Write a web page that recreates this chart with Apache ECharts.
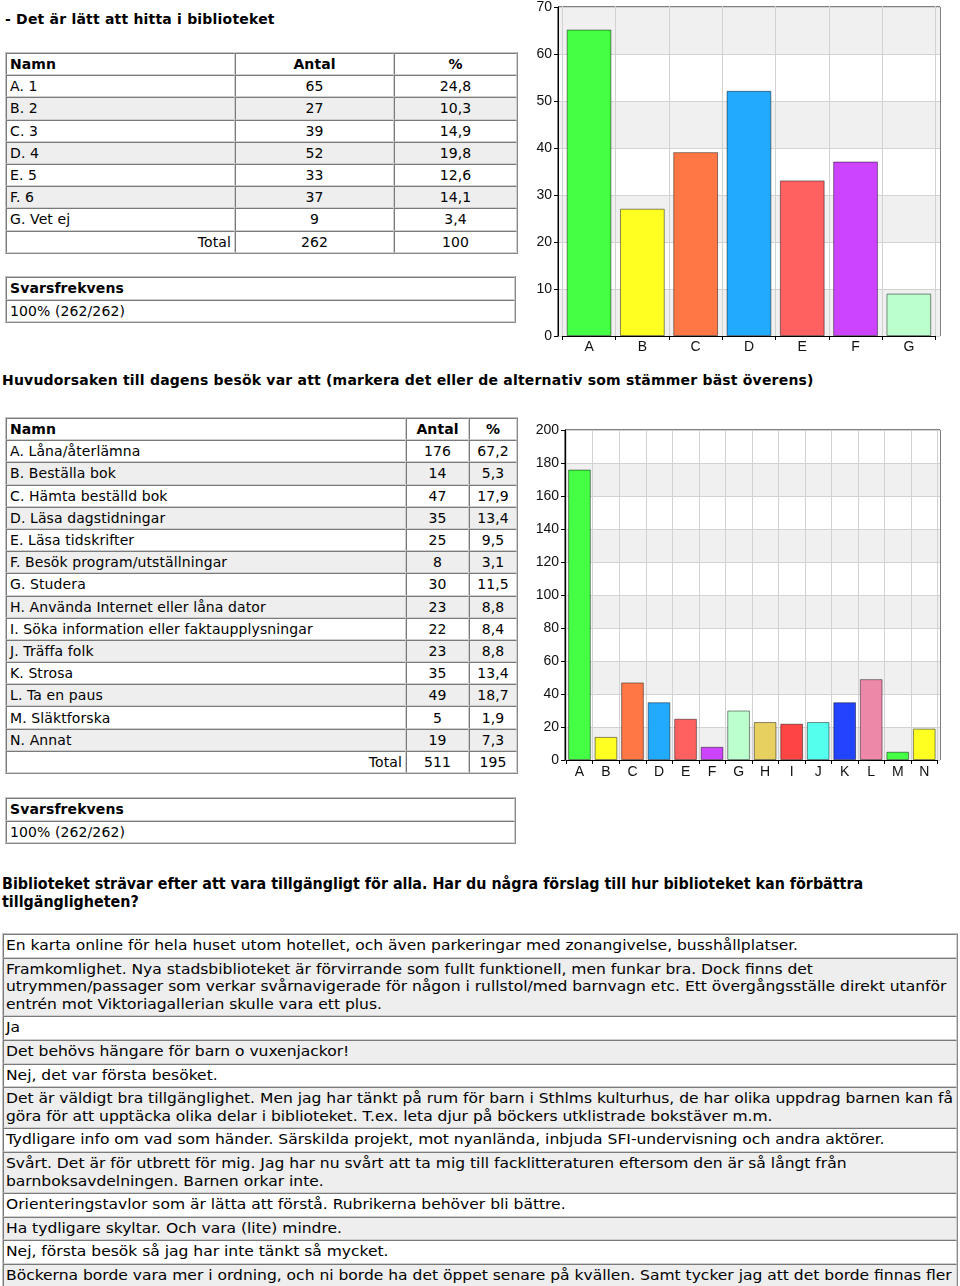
<!DOCTYPE html>
<html>
<head>
<meta charset="utf-8">
<script src="https://cdn.jsdelivr.net/npm/echarts@6/dist/echarts.min.js"></script>
<style>
  html, body { margin:0; padding:0; background:#fff; }
  body { width:960px; height:1286px; position:relative; overflow:hidden; font-family:"DejaVu Sans", Verdana, sans-serif; color:#000; }
  .abs { position:absolute; }
  .qtitle { font-weight:bold; font-size:14px; letter-spacing:0.2px; line-height:18px; white-space:nowrap; }
  table.grid { border-collapse:separate; border-spacing:0; table-layout:fixed; font-size:14px; letter-spacing:0.1px;
    border-top:1px solid #c4c4c4; border-left:1px solid #c4c4c4; border-right:1px solid #8a8a8a; border-bottom:1px solid #8a8a8a; }
  table.grid td { border-top:1px solid #7a7a7a; border-left:1px solid #7a7a7a; border-right:1px solid #cfcfcf; border-bottom:1px solid #cfcfcf;
    padding:0 3px; white-space:nowrap; overflow:hidden; vertical-align:middle; }
  table.grid tr.g td { background:#eeeeee; }
  table.grid td.c { text-align:center; }
  table.grid td.r { text-align:right; }
  table.cm { border-collapse:separate; border-spacing:0; table-layout:fixed; font-family:"DejaVu Sans Condensed","DejaVu Sans",sans-serif; font-size:14.5px;
    border-top:1px solid #c4c4c4; border-left:1px solid #c4c4c4; border-right:1px solid #8a8a8a; border-bottom:1px solid #8a8a8a; }
  table.cm td { border-top:1px solid #7a7a7a; border-left:1px solid #7a7a7a; border-right:1px solid #cfcfcf; border-bottom:1px solid #cfcfcf;
    padding:2px 2px; line-height:17.6px; white-space:nowrap; overflow:hidden; }
  table.cm td span { display:inline-block; transform:scaleX(1.19); transform-origin:0 0; }
  table.cm tr.g td { background:#eeeeee; }
</style>
</head>
<body>
<div class="abs qtitle" style="left:5px; top:10px;" id="q1t"></div>
<table id="t1" class="abs grid" style="left:5px; top:52px; width:511px;"></table>
<table id="s1" class="abs grid" style="left:5px; top:276px; width:511px;"></table>
<div id="c1" class="abs" style="left:520px; top:0px; width:440px; height:360px;"></div>

<div class="abs qtitle" style="left:2px; top:371px;" id="q2t"></div>
<table id="t2" class="abs grid" style="left:5px; top:417px; width:511px;"></table>
<table id="s2" class="abs grid" style="left:5px; top:797px; width:511px;"></table>
<div id="c2" class="abs" style="left:520px; top:415px; width:440px; height:370px;"></div>

<div class="abs" id="q3t" style="left:2px; top:875px; font-family:'DejaVu Sans Condensed','DejaVu Sans',sans-serif; font-weight:bold; font-size:15.9px; line-height:18px; white-space:nowrap;"></div>
<table id="cm" class="abs cm" style="left:2px; top:933px; width:956px;"></table>

<script>
// ---------- Data ----------
const q1Title = '- Det är lätt att hitta i biblioteket';
const q1Cats = ['A','B','C','D','E','F','G'];
const q1Names = ['A. 1','B. 2','C. 3','D. 4','E. 5','F. 6','G. Vet ej'];
const q1Counts = [65, 27, 39, 52, 33, 37, 9];
const q1Pct = ['24,8','10,3','14,9','19,8','12,6','14,1','3,4'];
const q1Total = ['262','100'];
const q1Ticks = [0, 10, 20, 30, 40, 50, 60, 70];

const q2Title = 'Huvudorsaken till dagens besök var att (markera det eller de alternativ som stämmer bäst överens)';
const q2Cats = ['A','B','C','D','E','F','G','H','I','J','K','L','M','N'];
const q2Names = ['A. Låna/återlämna','B. Beställa bok','C. Hämta beställd bok','D. Läsa dagstidningar','E. Läsa tidskrifter',
  'F. Besök program/utställningar','G. Studera','H. Använda Internet eller låna dator','I. Söka information eller faktaupplysningar',
  'J. Träffa folk','K. Strosa','L. Ta en paus','M. Släktforska','N. Annat'];
const q2Counts = [176, 14, 47, 35, 25, 8, 30, 23, 22, 23, 35, 49, 5, 19];
const q2Pct = ['67,2','5,3','17,9','13,4','9,5','3,1','11,5','8,8','8,4','8,8','13,4','18,7','1,9','7,3'];
const q2Total = ['511','195'];
const q2Ticks = [0, 20, 40, 60, 80, 100, 120, 140, 160, 180, 200];

const responseLabel = 'Svarsfrekvens';
const responseValue = '100% (262/262)';

const q3TitleLines = ['Biblioteket strävar efter att vara tillgängligt för alla. Har du några förslag till hur biblioteket kan förbättra',
  'tillgängligheten?'];
const comments = [
  ['En karta online för hela huset utom hotellet, och även parkeringar med zonangivelse, busshållplatser.'],
  ['Framkomlighet. Nya stadsbiblioteket är förvirrande som fullt funktionell, men funkar bra. Dock finns det',
   'utrymmen/passager som verkar svårnavigerade för någon i rullstol/med barnvagn etc. Ett övergångsställe direkt utanför',
   'entrén mot Viktoriagallerian skulle vara ett plus.'],
  ['Ja'],
  ['Det behövs hängare för barn o vuxenjackor!'],
  ['Nej, det var första besöket.'],
  ['Det är väldigt bra tillgänglighet. Men jag har tänkt på rum för barn i Sthlms kulturhus, de har olika uppdrag barnen kan få',
   'göra för att upptäcka olika delar i biblioteket. T.ex. leta djur på böckers utklistrade bokstäver m.m.'],
  ['Tydligare info om vad som händer. Särskilda projekt, mot nyanlända, inbjuda SFI-undervisning och andra aktörer.'],
  ['Svårt. Det är för utbrett för mig. Jag har nu svårt att ta mig till facklitteraturen eftersom den är så långt från',
   'barnboksavdelningen. Barnen orkar inte.'],
  ['Orienteringstavlor som är lätta att förstå. Rubrikerna behöver bli bättre.'],
  ['Ha tydligare skyltar. Och vara (lite) mindre.'],
  ['Nej, första besök så jag har inte tänkt så mycket.'],
  ['Böckerna borde vara mer i ordning, och ni borde ha det öppet senare på kvällen. Samt tycker jag att det borde finnas fler']
];

// ---------- Styles ----------
const q1Colors = ['#44ff44','#ffff22','#ff7744','#22aaff','#ff6060','#cc44ff','#bbffcc'];
const q2Colors = ['#44ff44','#ffff22','#ff7744','#22aaff','#ff6060','#cc44ff','#bbffcc','#e8d060','#ff4444','#55ffee','#2244ff','#ee88a8','#44ff44','#ffff22'];

// ---------- Text & tables ----------
function esc(s){ return String(s).replace(/&/g,'&amp;').replace(/</g,'&lt;'); }
document.getElementById('q1t').textContent = q1Title;
document.getElementById('q2t').textContent = q2Title;
document.getElementById('q3t').innerHTML = q3TitleLines.map(esc).join('<br>');

function buildTable(id, names, counts, pct, total, widths, rowH) {
  const t = document.getElementById(id);
  let h = '<colgroup>' + widths.map(w => '<col style="width:'+w+'px">').join('') + '</colgroup>';
  h += '<tr style="height:'+rowH+'px"><td style="font-weight:bold">Namn</td><td class="c" style="font-weight:bold">Antal</td><td class="c" style="font-weight:bold">%</td></tr>';
  names.forEach((n, i) => {
    h += '<tr class="'+(i%2===1?'g':'')+'" style="height:'+rowH+'px"><td>'+esc(n)+'</td><td class="c">'+counts[i]+'</td><td class="c">'+pct[i]+'</td></tr>';
  });
  h += '<tr style="height:'+rowH+'px"><td class="r">Total</td><td class="c">'+total[0]+'</td><td class="c">'+total[1]+'</td></tr>';
  t.innerHTML = h;
}
function buildResp(id, rowH) {
  const t = document.getElementById(id);
  t.innerHTML = '<tr style="height:'+rowH+'px"><td style="font-weight:bold">'+responseLabel+'</td></tr>' +
                '<tr style="height:'+rowH+'px"><td>'+esc(responseValue)+'</td></tr>';
}
buildTable('t1', q1Names, q1Counts, q1Pct, q1Total, [229,159,123], 22.2);
buildTable('t2', q2Names, q2Counts, q2Pct, q2Total, [400,63,48], 22.2);
buildResp('s1', 22.5);
buildResp('s2', 22.5);
(function(){
  const t = document.getElementById('cm');
  t.innerHTML = comments.map((lines, i) =>
    '<tr class="'+(i%2===1?'g':'')+'"><td>'+lines.map(l => '<span>'+esc(l)+'</span>').join('<br>')+'</td></tr>').join('');
})();

// ---------- Charts ----------
// frame: outer plot rectangle; inner: category band area (JFreeChart-style margins)
function barOption(cats, vals, colors, ticks, frame, inner, gap, xMargin) {
  const lab = { color:'#111', fontFamily:'Liberation Sans, Arial, sans-serif', fontSize:14 };
  const yMin = ticks[0], yMax = ticks[ticks.length-1], yInt = ticks[1]-ticks[0];
  return {
    animation: false,
    grid: [
      Object.assign({ show:true, borderColor:'#000', borderWidth:1, backgroundColor:'transparent' }, frame),
      Object.assign({ show:false }, inner)
    ],
    xAxis: [
      { gridIndex:0, type:'value', show:false, min:0, max:1 },
      {
        gridIndex:1, type:'category', data:cats, boundaryGap:true,
        axisLine:{ show:true, lineStyle:{ color:'#000', width:1 } },
        axisTick:{ show:true, length:4, lineStyle:{ color:'#000' } },
        axisLabel:Object.assign({ margin:xMargin }, lab),
        splitLine:{ show:true, lineStyle:{ color:'#d2d2d2', width:1 } }
      }
    ],
    yAxis: [
      {
        gridIndex:0, type:'value', min:yMin, max:yMax, interval:yInt,
        axisLine:{ show:true, lineStyle:{ color:'#000', width:1 } },
        axisTick:{ show:true, length:4, lineStyle:{ color:'#000' } },
        axisLabel:Object.assign({ margin:6 }, lab),
        splitLine:{ show:true, lineStyle:{ color:'#d2d2d2', width:1 } },
        splitArea:{ show:true, areaStyle:{ color:['#f0f0f0','#ffffff'] } }
      },
      { gridIndex:1, type:'value', min:yMin, max:yMax, interval:yInt, show:false }
    ],
    series: [{
      type:'bar', xAxisIndex:1, yAxisIndex:1,
      data: vals.map((v, i) => ({ value:v, itemStyle:{ color:colors[i] } })),
      barCategoryGap: gap,
      itemStyle:{ borderColor:'rgba(0,0,0,0.45)', borderWidth:1 }
    }]
  };
}
const ch1 = echarts.init(document.getElementById('c1'), null, { renderer:'canvas' });
ch1.setOption(barOption(q1Cats, q1Counts, q1Colors, q1Ticks,
  { left:38, right:20, top:6, bottom:24 }, { left:42.4, right:24.5, top:6, bottom:24 }, '16%', 4));
const ch2 = echarts.init(document.getElementById('c2'), null, { renderer:'canvas' });
ch2.setOption(barOption(q2Cats, q2Counts, q2Colors, q2Ticks,
  { left:45, right:20, top:15, bottom:25 }, { left:46.2, right:22.5, top:15, bottom:25 }, '14.5%', 5));
</script>
</body>
</html>
